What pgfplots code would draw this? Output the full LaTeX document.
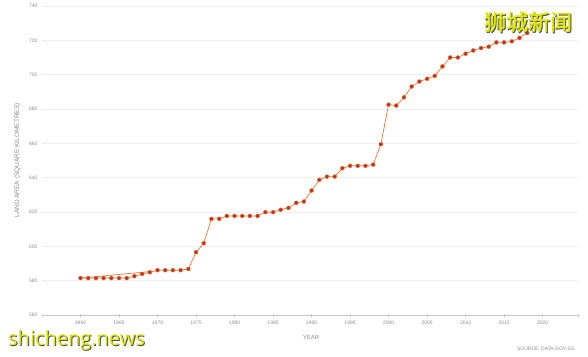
\documentclass[border=0pt]{standalone}
\usepackage{pgfplots}
\pgfplotsset{compat=1.18}
\usepackage{fontspec}
\setmainfont{Liberation Sans}
\newfontfamily\cjk[FakeBold=2]{Noto Sans CJK SC}
\newfontfamily\wm{Open Sans}
\definecolor{lineor}{RGB}{228,118,52}
\definecolor{markred}{RGB}{190,52,36}
\definecolor{gridc}{RGB}{238,238,238}
\definecolor{axc}{RGB}{200,200,200}
\definecolor{labc}{RGB}{140,140,140}
\definecolor{wmy}{RGB}{225,232,20}
\begin{document}
\begin{tikzpicture}[x=1pt,y=1pt]
\path[use as bounding box] (0,0) rectangle (588,356);
\begin{axis}[
  at={(42pt,41pt)}, anchor=south west,
  scale only axis, width=536pt, height=309pt,
  xmin=1955, xmax=2024.6, ymin=560, ymax=740,
  xtick={1960,1965,...,2020}, ytick={560,580,...,740},
  extra x ticks={1955,2024.6}, extra x tick labels={},
  extra x tick style={grid=none},
  x tick label style={/pgf/number format/1000 sep={}, font=\fontsize{5}{6}\selectfont, text=labc, yshift=-1pt},
  y tick label style={font=\fontsize{5}{6}\selectfont, text=labc, xshift=-1pt},
  /pgf/number format/assume math mode=true,
  axis lines*=left,
  x axis line style={axc, line width=0.6pt, -},
  y axis line style={draw=none},
  ymajorgrids, grid style={gridc, line width=0.5pt},
  major tick length=3pt, xtick style={axc, line width=0.5pt},
  xtick align=center, ytick style={draw=none},
  xlabel={YEAR}, ylabel={LAND AREA (SQUARE KILOMETRES)},
  xlabel style={font=\fontsize{6}{7}\selectfont, text=labc, at={(axis description cs:0.502,-0.072)}, anchor=center},
  ylabel style={font=\fontsize{6.5}{7}\selectfont, text=labc, at={(axis description cs:-0.046,0.5)}, anchor=center},
  clip=false,
]
\addplot[lineor, line width=0.7pt, no marks] coordinates {(1960,581.5) (1969,585.3)};
\addplot[lineor, line width=0.7pt, mark=*, mark size=2.0pt, mark options={fill=markred, draw=lineor, line width=0.4pt}] coordinates {
(1960,581.5) (1961,581.5) (1962,581.5) (1963,581.5) (1964,581.5) (1965,581.5) (1966,581.5)
(1967,582.6) (1968,583.9) (1969,584.9) (1970,586.1) (1971,586.1) (1972,586.1) (1973,586.1)
(1974,586.8) (1975,596.6) (1976,601.8) (1977,616.0) (1978,616.0) (1979,617.7) (1980,617.7)
(1981,617.7) (1982,617.7) (1983,617.7) (1984,619.9) (1985,619.9) (1986,621.3) (1987,622.4)
(1988,625.3) (1989,626.1) (1990,632.5) (1991,638.7) (1992,640.6) (1993,640.6) (1994,645.5)
(1995,646.9) (1996,646.9) (1997,646.9) (1998,647.6) (1999,659.5) (2000,682.5) (2001,682.0)
(2002,686.8) (2003,693.1) (2004,696.0) (2005,697.6) (2006,699.3) (2007,704.8) (2008,710.0)
(2009,710.0) (2010,712.2) (2011,714.1) (2012,715.5) (2013,716.3) (2014,718.8) (2015,718.8)
(2016,719.4) (2017,721.4) (2018,724.3)
};
\end{axis}
\node[anchor=east, font=\fontsize{5}{6}\selectfont, text=labc] at (578,7) {SOURCE: DATA.GOV.SG};
\node[anchor=center, font=\cjk\fontsize{22}{24}\selectfont, text=black!70] at (529,333) {狮城新闻};
\node[anchor=center, font=\cjk\fontsize{22}{24}\selectfont, text=wmy] at (528,334) {狮城新闻};
\node[anchor=west, font=\wm\fontsize{20}{22}\selectfont, text=black!70, inner sep=0pt] at (9,15) {shicheng.news};
\node[anchor=west, font=\wm\fontsize{20}{22}\selectfont, text=wmy, inner sep=0pt] at (8,16) {shicheng.news};
\end{tikzpicture}
\end{document}
